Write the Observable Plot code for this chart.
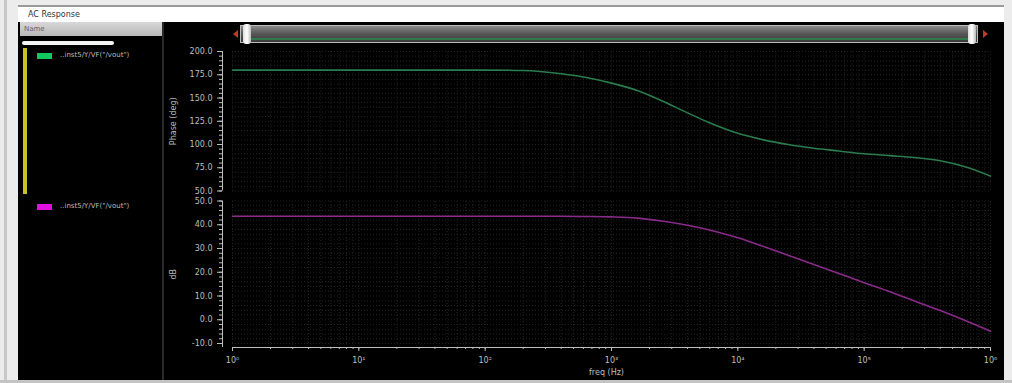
<!DOCTYPE html>
<html>
<head>
<meta charset="utf-8">
<script src="https://cdn.jsdelivr.net/npm/d3@7"></script>
<script src="https://cdn.jsdelivr.net/npm/@observablehq/plot@0.6"></script>
<style>
  html, body { margin: 0; padding: 0; background: #ffffff; }
  #win { position: relative; width: 1012px; height: 383px; overflow: hidden; background: #ececec; font-family: "DejaVu Sans", sans-serif; }
  .abs { position: absolute; }
  #title { left: 18px; top: 5px; width: 986px; height: 17px; background: #ffffff; border-top: 2px solid #9a9a9a; box-sizing: border-box; font-size: 8px; color: #333; padding: 3px 0 0 10px; }
  #black { left: 18px; top: 22px; width: 986px; height: 358px; background: #000; }
  #namehdr { left: 20px; top: 22px; width: 142px; height: 14px; background: linear-gradient(#d8d8d8, #b8b8b8); font-size: 7px; color: #666; padding: 3px 0 0 4px; box-sizing: border-box; }
  #prog { left: 22px; top: 41px; width: 92px; height: 4px; background: #f4f4f4; border-radius: 2px; }
  #ybar { left: 23px; top: 48px; width: 4px; height: 146px; background: #c9c21e; }
  .sw { width: 15px; height: 6px; }
  .lg { font-size: 7px; color: #bdbdbd; white-space: nowrap; overflow: hidden; width: 100px; }
  #sep { left: 162px; top: 22px; width: 2px; height: 358px; background: #2a2a2a; }
  #scroll { left: 240px; top: 25px; width: 738px; height: 18px; background: linear-gradient(#8a8a8a, #5a5a5a 45%, #4a4a4a 70%, #3a3a3a); border: 1px solid #bbb; box-sizing: border-box; }
  #scrollg { left: 250px; top: 38px; width: 720px; height: 2px; background: #2f7a4a; }
  .hdl { width: 8px; height: 20px; background: linear-gradient(90deg, #ddd, #fff, #bbb); border-radius: 3px; top: 24px; }
  .arr { width: 0; height: 0; border-top: 4px solid transparent; border-bottom: 4px solid transparent; top: 30px; }
  #leftstrip { left: 4px; top: 0px; width: 3px; height: 383px; background: #c8c8c8; }
  #bottom { left: 0; top: 380px; width: 1012px; height: 3px; background: #c4c4c4; }
  .plot { position: absolute; }
</style>
</head>
<body>
<div id="win">
  <div class="abs" id="leftstrip"></div>
  <div class="abs" id="title">AC Response</div>
  <div class="abs" id="black"></div>
  <div class="abs" id="namehdr">Name</div>
  <div class="abs" id="prog"></div>
  <div class="abs" id="ybar"></div>
  <div class="abs sw" style="left:37px;top:53px;background:#12c95e"></div>
  <div class="abs lg" style="left:60px;top:51px">..inst5/Y/VF("/vout")</div>
  <div class="abs sw" style="left:37px;top:204px;background:#e010e0"></div>
  <div class="abs lg" style="left:60px;top:202px">..inst5/Y/VF("/vout")</div>
  <div class="abs" id="sep"></div>
  <div class="abs" id="scroll"></div>
  <div class="abs" id="scrollg"></div>
  <div class="abs hdl" style="left:243px"></div>
  <div class="abs hdl" style="left:968px"></div>
  <div class="abs arr" style="left:233px;border-right:5px solid #c0392b"></div>
  <div class="abs arr" style="left:983px;border-left:5px solid #c0392b"></div>
  <div class="abs" id="bottom"></div>
  <div id="p1" class="plot" style="left:163px;top:45px"></div>
  <div id="p2" class="plot" style="left:163px;top:195px"></div>
</div>
<script>
// ---- data ----
const freqHz = [1, 10, 100, 200, 400, 630, 1000, 1600, 2500, 4000, 6300, 10000, 16000, 25000, 40000, 63000, 100000, 160000, 250000, 400000, 630000, 1000000];
const phaseDeg = [180, 180, 180, 179.5, 176, 172, 166, 158, 147, 134, 122, 112, 105, 100, 96, 93, 90, 88, 86, 82.5, 76, 66];
const gainDb = [43.6, 43.6, 43.6, 43.6, 43.6, 43.5, 43.3, 42.8, 41.6, 39.8, 37.5, 34.5, 30.8, 27.2, 23.3, 19.5, 15.6, 11.8, 7.9, 3.9, -0.3, -4.8];
const xTickValues = [1, 10, 100, 1000, 10000, 100000, 1000000];
const xTickLabels = ["10\u2070", "10\u00b9", "10\u00b2", "10\u00b3", "10\u2074", "10\u2075", "10\u2076"];
const phaseTicks = [50, 75, 100, 125, 150, 175, 200];
const dbTicks = [-10, 0, 10, 20, 30, 40, 50];

const phaseRows = freqHz.map((f, i) => ({f, v: phaseDeg[i]}));
const dbRows = freqHz.map((f, i) => ({f, v: gainDb[i]}));

// minor positions (grid / minor ticks)
const xMinor = [];
for (let d = 1; d < 1e6; d *= 10) for (let k = 1; k <= 9; k++) xMinor.push(d * k);
xMinor.push(1e6);
const phaseMinor = d3.range(50, 200.01, 5);
const dbMinor = d3.range(-10, 50.01, 2);

const axisColor = "#bdbdbd";
const gridStroke = "#232323";
const common = {
  width: 840,
  marginLeft: 59, insetLeft: 10, marginRight: 13,
  style: {background: "transparent", color: axisColor, fontSize: "8px", fontFamily: "DejaVu Sans, sans-serif", overflow: "visible"},
};

const p1 = Plot.plot({
  ...common,
  height: 150, marginTop: 6, marginBottom: 4.5,
  x: {type: "log", domain: [1, 1e6], axis: null},
  y: {domain: [50, 200], axis: null},
  marks: [
    Plot.ruleX(xMinor, {y1: 50, y2: 200, stroke: gridStroke, strokeDasharray: "1,2"}),
    Plot.ruleY(phaseMinor, {x1: 1, x2: 1e6, stroke: gridStroke, strokeDasharray: "1,2"}),
    Plot.ruleX([1], {dx: -10, stroke: axisColor}),
    Plot.axisY(phaseMinor, {tickSize: 3, tickFormat: () => "", label: null, stroke: axisColor}),
    Plot.axisY(phaseTicks, {tickSize: 5, tickPadding: 5, tickFormat: d => d.toFixed(1), label: "Phase (deg)", labelAnchor: "center", labelOffset: 52, labelArrow: "none", stroke: axisColor}),
    Plot.line(phaseRows, {x: "f", y: "v", stroke: "#2a7d4c", strokeWidth: 1.6, curve: "monotone-x"})
  ]
});
document.getElementById("p1").appendChild(p1);

const p2 = Plot.plot({
  ...common,
  height: 185, marginTop: 5.5, marginBottom: 33, insetBottom: 4,
  x: {type: "log", domain: [1, 1e6]},
  y: {domain: [-10, 50]},
  marks: [
    Plot.ruleX(xMinor, {y1: -10, y2: 50, stroke: gridStroke, strokeDasharray: "1,2"}),
    Plot.ruleY(dbMinor, {x1: 1, x2: 1e6, stroke: gridStroke, strokeDasharray: "1,2"}),
    Plot.ruleX([1], {dx: -10, stroke: axisColor}),
    Plot.ruleY([-10], {x1: 1, x2: 1e6, dy: 4, stroke: axisColor}),
    Plot.axisY(dbMinor, {tickSize: 3, tickFormat: () => "", label: null, stroke: axisColor}),
    Plot.axisY(dbTicks, {tickSize: 5, tickPadding: 5, tickFormat: d => d.toFixed(1), label: "dB", labelAnchor: "center", labelOffset: 52, labelArrow: "none", stroke: axisColor}),
    Plot.axisX(xMinor, {tickSize: 2, tickFormat: () => "", label: null, stroke: axisColor}),
    Plot.axisX(xTickValues, {tickSize: 4, tickPadding: 6, tickFormat: d => xTickLabels[xTickValues.indexOf(d)], label: "freq (Hz)", labelAnchor: "center", labelOffset: 27, labelArrow: "none", stroke: axisColor, fontSize: 8}),
    Plot.line(dbRows, {x: "f", y: "v", stroke: "#8a2a8a", strokeWidth: 1.6, curve: "monotone-x"})
  ]
});
document.getElementById("p2").appendChild(p2);
</script>
</body>
</html>
